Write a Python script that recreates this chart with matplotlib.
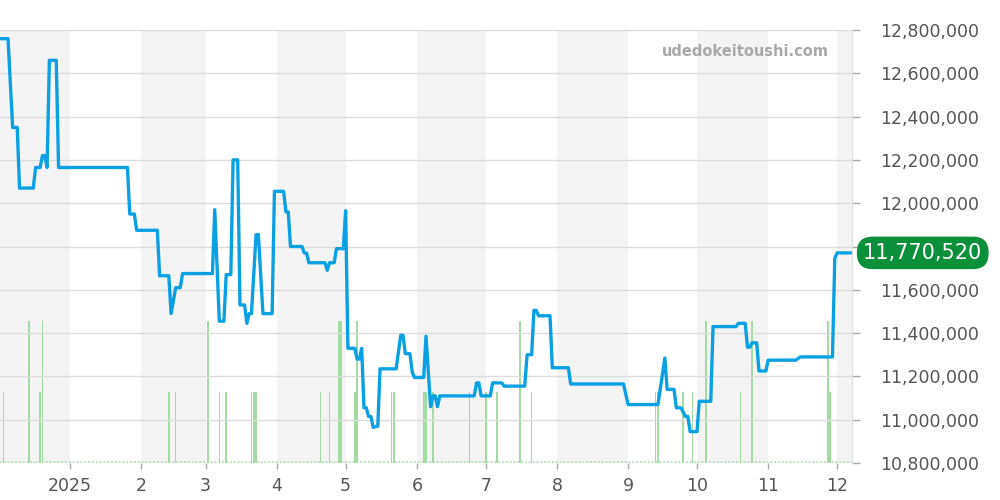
import matplotlib
matplotlib.use("Agg")
import matplotlib.pyplot as plt
import matplotlib.transforms as mtransforms
import pandas as pd

# ---- data ----
price_dates = [
    "2024-12-01", "2024-12-05", "2024-12-07", "2024-12-09", "2024-12-10", "2024-12-16",
    "2024-12-17", "2024-12-19", "2024-12-20", "2024-12-21", "2024-12-22", "2024-12-23",
    "2024-12-26", "2024-12-27", "2025-01-26", "2025-01-27", "2025-01-29", "2025-01-30",
    "2025-02-08", "2025-02-09", "2025-02-13", "2025-02-14", "2025-02-16", "2025-02-18",
    "2025-02-19", "2025-03-04", "2025-03-05", "2025-03-07", "2025-03-09", "2025-03-10",
    "2025-03-12", "2025-03-13", "2025-03-15", "2025-03-16", "2025-03-18", "2025-03-19",
    "2025-03-20", "2025-03-21", "2025-03-23", "2025-03-24", "2025-03-26", "2025-03-30",
    "2025-03-31", "2025-04-04", "2025-04-05", "2025-04-06", "2025-04-07", "2025-04-12",
    "2025-04-13", "2025-04-14", "2025-04-15", "2025-04-22", "2025-04-23", "2025-04-24",
    "2025-04-26", "2025-04-27", "2025-04-30", "2025-05-01", "2025-05-02", "2025-05-05",
    "2025-05-06", "2025-05-07", "2025-05-08", "2025-05-09", "2025-05-10", "2025-05-11",
    "2025-05-12", "2025-05-13", "2025-05-15", "2025-05-16", "2025-05-23", "2025-05-25",
    "2025-05-26", "2025-05-27", "2025-05-29", "2025-05-30", "2025-05-31", "2025-06-04",
    "2025-06-05", "2025-06-07", "2025-06-08", "2025-06-09", "2025-06-10", "2025-06-11",
    "2025-06-26", "2025-06-27", "2025-06-28", "2025-06-29", "2025-07-03", "2025-07-04",
    "2025-07-08", "2025-07-09", "2025-07-18", "2025-07-19", "2025-07-21", "2025-07-22",
    "2025-07-23", "2025-07-24", "2025-07-29", "2025-07-30", "2025-08-06", "2025-08-07",
    "2025-08-30", "2025-09-01", "2025-09-14", "2025-09-17", "2025-09-18", "2025-09-21",
    "2025-09-22", "2025-09-24", "2025-09-26", "2025-09-27", "2025-09-28", "2025-10-01",
    "2025-10-02", "2025-10-07", "2025-10-08", "2025-10-18", "2025-10-19", "2025-10-22",
    "2025-10-23", "2025-10-24", "2025-10-25", "2025-10-27", "2025-10-28", "2025-10-31",
    "2025-11-01", "2025-11-13", "2025-11-15", "2025-11-29", "2025-11-30", "2025-12-01",
    "2025-12-07",
]
prices = [
    12760000, 12760000, 12350000, 12350000, 12070000, 12070000,
    12165000, 12165000, 12220000, 12220000, 12165000, 12660000,
    12660000, 12165000, 12165000, 11950000, 11950000, 11875000,
    11875000, 11665000, 11665000, 11490000, 11610000, 11610000,
    11675000, 11675000, 11970000, 11455000, 11455000, 11670000,
    11670000, 12200000, 12200000, 11530000, 11530000, 11445000,
    11490000, 11490000, 11855000, 11855000, 11490000, 11490000,
    12055000, 12055000, 11960000, 11960000, 11800000, 11800000,
    11770000, 11770000, 11725000, 11725000, 11690000, 11725000,
    11725000, 11790000, 11790000, 11965000, 11330000, 11330000,
    11280000, 11280000, 11330000, 11055000, 11055000, 11015000,
    11015000, 10965000, 10970000, 11235000, 11235000, 11390000,
    11390000, 11305000, 11305000, 11220000, 11195000, 11195000,
    11385000, 11060000, 11110000, 11110000, 11060000, 11110000,
    11110000, 11170000, 11170000, 11110000, 11110000, 11170000,
    11170000, 11155000, 11155000, 11300000, 11300000, 11505000,
    11505000, 11480000, 11480000, 11240000, 11240000, 11165000,
    11165000, 11070000, 11070000, 11285000, 11140000, 11140000,
    11055000, 11055000, 11015000, 11015000, 10945000, 10945000,
    11085000, 11085000, 11430000, 11430000, 11445000, 11445000,
    11335000, 11335000, 11355000, 11355000, 11225000, 11225000,
    11275000, 11275000, 11290000, 11290000, 11745000, 11770520,
    11770520,
]

volume_dates = [
    "2024-12-03", "2024-12-14", "2024-12-19", "2024-12-20", "2025-02-13", "2025-02-16",
    "2025-03-02", "2025-03-07", "2025-03-10", "2025-03-21", "2025-03-22", "2025-03-23",
    "2025-04-20", "2025-04-24", "2025-04-28", "2025-04-29", "2025-05-05", "2025-05-06",
    "2025-05-21", "2025-05-22", "2025-06-04", "2025-06-05", "2025-06-08", "2025-06-24",
    "2025-07-01", "2025-07-06", "2025-07-16", "2025-07-21", "2025-09-13", "2025-09-14",
    "2025-09-25", "2025-09-29", "2025-10-05", "2025-10-20", "2025-10-25", "2025-11-27",
    "2025-11-28",
]
volumes = [
    1, 2, 1, 2, 1, 1,
    2, 1, 1, 1, 1, 1,
    1, 1, 2, 2, 1, 2,
    1, 1, 1, 1, 1, 1,
    1, 1, 2, 1, 1, 1,
    1, 1, 2, 1, 2, 2,
    1,
]

month_ticks = ["2025-01-01", "2025-02-01", "2025-03-01", "2025-04-01", "2025-05-01",
               "2025-06-01", "2025-07-01", "2025-08-01", "2025-09-01", "2025-10-01",
               "2025-11-01", "2025-12-01"]
month_labels = ["2025", "2", "3", "4", "5", "6", "7", "8", "9", "10", "11", "12"]
shade_months = [("2024-12-01", "2025-01-01"), ("2025-02-01", "2025-03-01"),
                ("2025-04-01", "2025-05-01"), ("2025-06-01", "2025-07-01"),
                ("2025-08-01", "2025-09-01"), ("2025-10-01", "2025-11-01"),
                ("2025-12-01", "2025-12-31")]
y_ticks = [10800000, 11000000, 11200000, 11400000, 11600000, 11800000,
           12000000, 12200000, 12400000, 12600000, 12800000]
last_price = 11770520

# ---- plot ----
fig = plt.figure(figsize=(10, 5), dpi=100)
axv = fig.add_axes([0.0, 0.074, 0.852, 0.866])   # background: shading + volume
ax = axv.twinx()                                  # foreground: price line

x_left = pd.Timestamp("2024-12-01 12:00")
x_right = pd.Timestamp("2025-12-07 12:00")

for a, b in shade_months:
    axv.axvspan(pd.Timestamp(a), pd.Timestamp(b), color="#f4f4f4", lw=0, zorder=0)

vd = pd.to_datetime(volume_dates)
axv.bar(vd, volumes, width=0.7, color="#a3dba3", lw=0, zorder=2)
axv.axhline(0.02, color="#a3dba3", lw=1.2, ls=(0, (1, 1.3)), zorder=2)
axv.set_ylim(0, 6.1)
axv.set_yticks([])
axv.set_xlim(x_left, x_right)
for s in axv.spines.values():
    s.set_visible(False)

for yt in y_ticks:
    ax.axhline(yt, color="#dcdcdc", lw=1, zorder=1)

pdts = pd.to_datetime(price_dates)
ax.plot(pdts, prices, color="#0aa0e4", lw=2.4, solid_joinstyle="round",
        solid_capstyle="round", zorder=5)

ax.set_xlim(x_left, x_right)
ax.set_ylim(10800000, 12800000)

ax.set_yticks(y_ticks)
ax.set_yticklabels(["" if v == 11800000 else f"{v:,}" for v in y_ticks])
ax.tick_params(axis="y", length=6, width=1, color="#aaaaaa",
               pad=14, labelsize=12.5, labelcolor="#555555")
axv.set_xticks(pd.to_datetime(month_ticks))
axv.set_xticklabels(month_labels)
axv.tick_params(axis="x", length=4, width=1, color="#aaaaaa", pad=6,
                labelsize=12.5, labelcolor="#555555")

for s in ax.spines.values():
    s.set_visible(False)
ax.spines["right"].set_visible(True)
ax.spines["right"].set_color("#e0e0e0")

# watermark
ax.text(0.973, 0.95, "udedokeitoushi.com", transform=ax.transAxes, ha="right",
        va="center", fontsize=10.5, fontweight="bold", color="#a8a8a8", zorder=6)

# last-price label
trans = mtransforms.blended_transform_factory(ax.transAxes, ax.transData)
trans = trans + mtransforms.ScaledTranslation(8 / 72, 0, fig.dpi_scale_trans)
ax.text(1.0, last_price, f"{last_price:,}", transform=trans, ha="left", va="center",
        fontsize=15, color="white", zorder=10, clip_on=False,
        bbox=dict(boxstyle="round,pad=0.3,rounding_size=0.75", fc="#0a8f3a", ec="none"))

fig.savefig("out.png", dpi=100)
